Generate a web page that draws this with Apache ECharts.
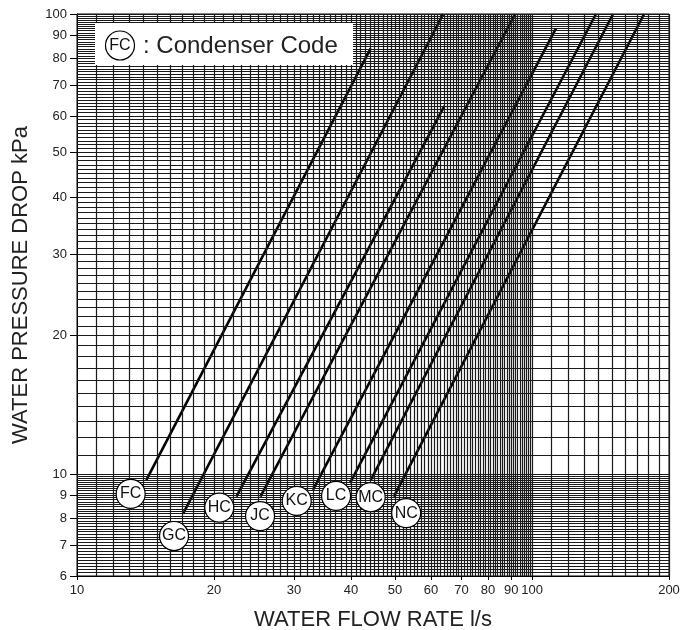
<!DOCTYPE html>
<html><head><meta charset="utf-8">
<script src="https://cdn.jsdelivr.net/npm/echarts@6/dist/echarts.min.js"></script>
<style>html,body{margin:0;padding:0;background:#fff}#c{width:691px;height:630px}</style>
</head><body><div id="c"></div>
<script>
// Tick labels
const xTickLabels = [10,20,30,40,50,60,70,80,90,100,200];
const yTickLabels = [6,7,8,9,10,20,30,40,50,60,70,80,90,100];
// Condenser codes and their curves (flow l/s, pressure drop kPa), straight on log-log
const codes = ['FC','GC','HC','JC','KC','LC','MC','NC'];
const curveStart = [[14.2,9.70],[17.1,8.19],[22.4,8.93],[25.3,8.93],[33.0,9.23],[39.8,9.55],[44.2,9.70],[49.7,8.93]];
const curveEnd   = [[44.2,84.2],[63.8,100],[64.2,63.1],[91.8,100],[112.9,93.1],[138.2,100],[150.7,100],[176.3,100]];
const labelPos   = [[13.12,9.05],[16.34,7.33],[20.54,8.45],[25.25,8.10],[30.4,8.74],[37.1,8.96],[44.2,8.90],[52.9,8.22]];

// log-paper grid values
const xGrid = [];
for (let v = 11; v <= 100; v++) xGrid.push(v);
for (let v = 110; v <= 200; v += 10) xGrid.push(v);
const yGrid = [];
for (let i = 61; i <= 100; i++) yGrid.push(i / 10);
for (let v = 11; v <= 100; v++) yGrid.push(v);

const FONT = '"Liberation Sans", Arial, Helvetica, sans-serif';
const chart = echarts.init(document.getElementById('c'));

const series = [];
series.push({
  type: 'line', data: [], z: 1, silent: true,
  markLine: {
    silent: true, symbol: 'none', animation: false,
    label: { show: false },
    lineStyle: { color: '#1a1a1a', width: 1.2, type: 'solid', opacity: 1 },
    emphasis: { disabled: true },
    data: xGrid.map(v => ({ xAxis: v })).concat(yGrid.map(v => ({ yAxis: v })))
  }
});
codes.forEach((c, i) => {
  series.push({
    name: c, type: 'line', z: 3, showSymbol: false, silent: true,
    data: [curveStart[i], curveEnd[i]],
    lineStyle: { color: '#000', width: 2.6 }
  });
});
series.push({
  type: 'scatter', z: 5, silent: true,
  symbol: 'circle', symbolSize: 29,
  itemStyle: { color: '#fff', borderColor: '#000', borderWidth: 1.2, opacity: 1 },
  label: { show: true, position: 'inside', formatter: p => p.data[2], color: '#111', fontSize: 16, fontFamily: FONT },
  data: labelPos.map((p, i) => [p[0], p[1], codes[i]])
});

chart.setOption({
  animation: false,
  backgroundColor: '#fff',
  grid: { left: 77, right: 22, top: 14, bottom: 54, outerBoundsMode: 'none', containLabel: false, show: true, borderColor: '#000', borderWidth: 1, backgroundColor: 'transparent' },
  xAxis: {
    type: 'log', logBase: 10, min: 10, max: 200,
    name: 'WATER FLOW RATE l/s', nameLocation: 'middle', nameGap: 33,
    nameTextStyle: { fontSize: 22, color: '#222', fontFamily: FONT },
    axisLine: { show: true, lineStyle: { color: '#000', width: 1 } },
    axisTick: { show: true, length: 4, customValues: xTickLabels, lineStyle: { color: '#000' } },
    axisLabel: { customValues: xTickLabels, color: '#222', fontSize: 13, margin: 8, fontFamily: FONT },
    splitLine: { show: false }, minorTick: { show: false }, minorSplitLine: { show: false }
  },
  yAxis: {
    type: 'log', logBase: 10, min: 6, max: 100,
    name: 'WATER PRESSURE DROP kPa', nameLocation: 'middle', nameGap: 45,
    nameTextStyle: { fontSize: 22, color: '#222', fontFamily: FONT, padding: [0, 0, 0, 20] },
    axisLine: { show: true, lineStyle: { color: '#000', width: 1 } },
    axisTick: { show: true, length: 7, customValues: yTickLabels, lineStyle: { color: '#000' } },
    axisLabel: { customValues: yTickLabels, color: '#222', fontSize: 13, margin: 10, fontFamily: FONT },
    splitLine: { show: false }, minorTick: { show: false }, minorSplitLine: { show: false }
  },
  graphic: [
    { type: 'rect', z: 100, shape: { x: 95, y: 23, width: 258, height: 42 }, style: { fill: '#fff' } },
    { type: 'circle', z: 101, shape: { cx: 120, cy: 45.5, r: 14.5 }, style: { fill: '#fff', stroke: '#000', lineWidth: 1.2 } },
    { type: 'text', z: 102, x: 120, y: 46, style: { text: 'FC', fontSize: 16, fill: '#111', align: 'center', verticalAlign: 'middle', fontFamily: FONT } },
    { type: 'text', z: 102, x: 143, y: 46, style: { text: ': Condenser Code', fontSize: 24, fill: '#222', verticalAlign: 'middle', fontFamily: FONT } }
  ],
  series: series
});
</script></body></html>
